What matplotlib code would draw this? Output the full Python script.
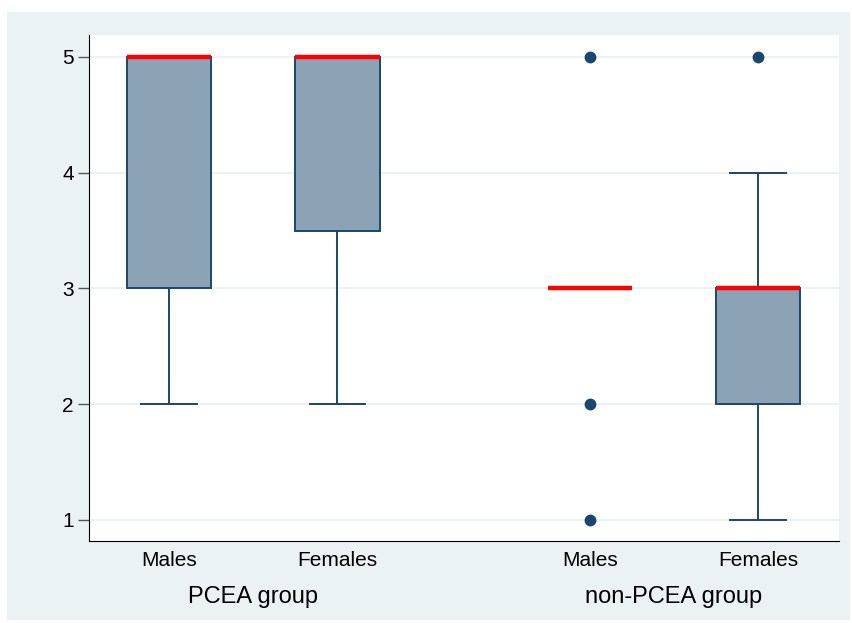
import matplotlib.pyplot as plt
from matplotlib.patches import Rectangle
from matplotlib.transforms import blended_transform_factory

# data
groups = ["PCEA group", "non-PCEA group"]
labels = ["Males", "Females", "Males", "Females"]
positions = [1, 2, 3.5, 4.5]
q1 = [3, 3.5, 3, 2]
med = [5, 5, 3, 3]
q3 = [5, 5, 3, 3]
wlo = [2, 2, 3, 1]
whi = [5, 5, 3, 4]
outliers = [[], [], [5, 2, 1], [5]]

edge = "#1a476f"
fill = "#8ca3b6"
bg = "#eaf2f3"

plt.rcParams['font.family'] = ['Liberation Sans', 'DejaVu Sans']

fig = plt.figure(figsize=(8.53, 6.23), dpi=100, facecolor="white")
# outer light panel behind the plot region
fig.patches.append(Rectangle((7/853, 3/623), 843/853, 608/623, transform=fig.transFigure,
                             facecolor=bg, edgecolor="none", zorder=-10))
ax = fig.add_axes([89/853, 82/623, 750/853, 506/623])
ax.set_zorder(1)

stats = []
for i in range(4):
    stats.append(dict(q1=q1[i], med=med[i], q3=q3[i], whislo=wlo[i], whishi=whi[i],
                      fliers=outliers[i], label=labels[i]))

ax.bxp(stats, positions=positions, widths=0.5, patch_artist=True, showcaps=True,
       boxprops=dict(facecolor=fill, edgecolor=edge, linewidth=1.4),
       medianprops=dict(color="#ff0000", linewidth=3.2, solid_capstyle="butt"),
       whiskerprops=dict(color=edge, linewidth=1.4),
       capprops=dict(color=edge, linewidth=1.4),
       flierprops=dict(marker="o", markerfacecolor=edge, markeredgecolor=edge, markersize=7.5),
       capwidths=0.33)

ax.set_xlim(0.524, 4.98)
ax.set_ylim(0.818, 5.19)
ax.set_yticks([1, 2, 3, 4, 5])
ax.yaxis.grid(True, color=bg, linewidth=1.4)
ax.set_axisbelow(True)
ax.tick_params(axis="y", labelsize=15, length=8, width=1, color="#555555", pad=3)
ax.tick_params(axis="x", labelsize=15, length=0, pad=7)
for s in ["top", "right"]:
    ax.spines[s].set_visible(False)
ax.spines["left"].set_color("black")
ax.spines["bottom"].set_color("black")

trans = blended_transform_factory(ax.transData, ax.transAxes)
ax.text(1.5, -0.111, groups[0], transform=trans, ha="center", va="center", fontsize=17)
ax.text(4.0, -0.111, groups[1], transform=trans, ha="center", va="center", fontsize=17)

fig.savefig("out.png", dpi=100, facecolor="white")
